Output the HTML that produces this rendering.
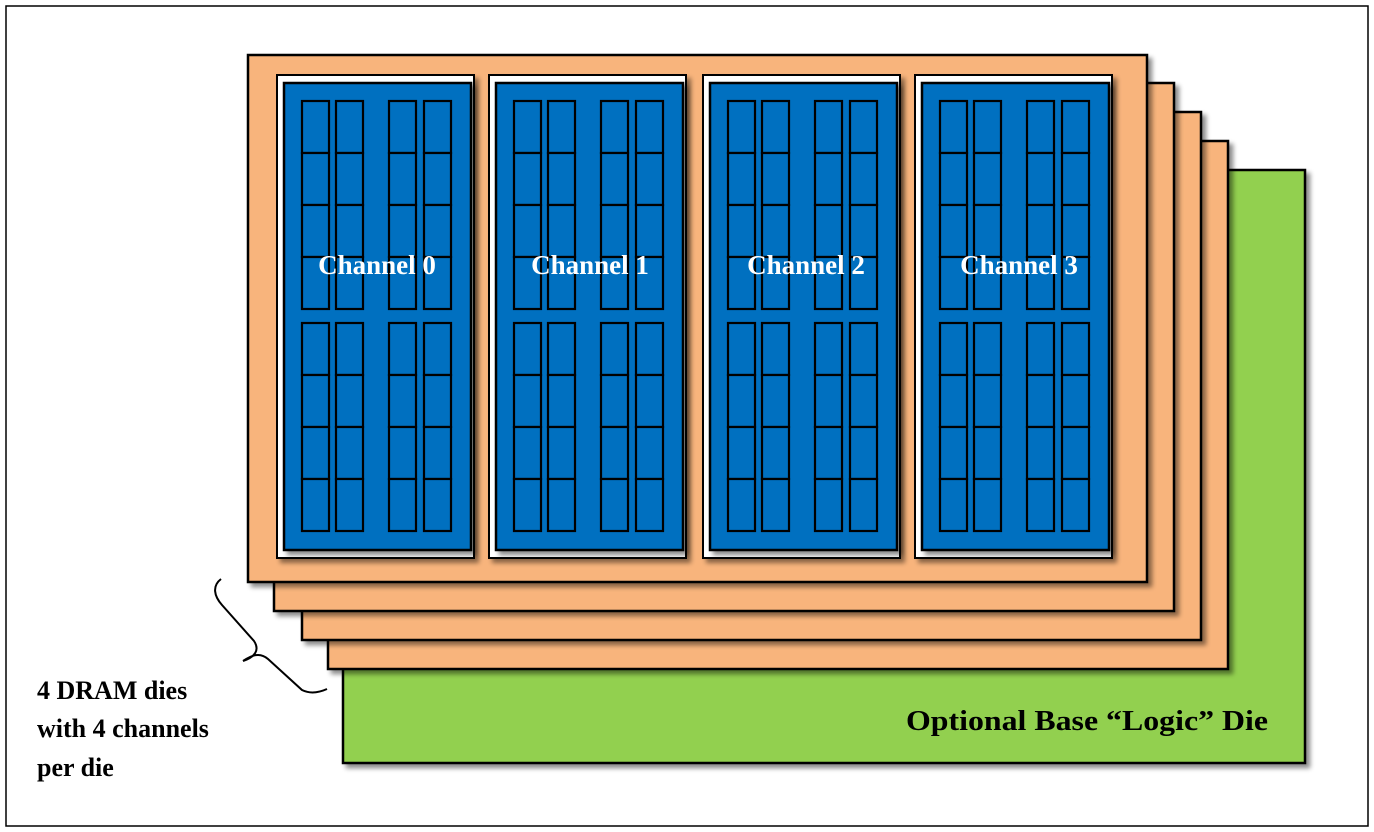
<!DOCTYPE html>
<html><head><meta charset="utf-8"><style>
html,body{margin:0;padding:0;background:#fff;}
svg{display:block;}
</style></head><body>
<svg width="1374" height="832" viewBox="0 0 1374 832" xmlns="http://www.w3.org/2000/svg">
<defs>
<filter id="sh" x="-5%" y="-5%" width="115%" height="115%">
<feDropShadow dx="4" dy="4" stdDeviation="2.5" flood-color="#000" flood-opacity="0.45"/>
</filter>
<g id="col">
<rect x="0" y="101" width="27" height="52"/><rect x="0" y="153" width="27" height="52"/><rect x="0" y="205" width="27" height="52"/><rect x="0" y="257" width="27" height="52"/>
<rect x="0" y="323" width="27" height="52"/><rect x="0" y="375" width="27" height="52"/><rect x="0" y="427" width="27" height="52"/><rect x="0" y="479" width="27" height="52"/>
</g>
<g id="ch">
<rect x="0" y="75" width="197" height="483" fill="#fff" stroke="#000" stroke-width="2" filter="url(#sh)"/>
<rect x="7" y="83" width="187" height="467" fill="#0070c0" stroke="#000" stroke-width="2.5" filter="url(#sh)"/>
<g fill="#0070c0" stroke="#000" stroke-width="2.2">
<use href="#col" x="25"/><use href="#col" x="59"/><use href="#col" x="112"/><use href="#col" x="147"/>
</g>
</g>
</defs>
<rect x="6" y="6" width="1362" height="820" fill="#fff" stroke="#000" stroke-width="1.5"/>
<rect x="343" y="170" width="962" height="593" fill="#92d050" stroke="#000" stroke-width="2.5" filter="url(#sh)"/>
<rect x="328" y="141" width="900" height="528" fill="#f8b47c" stroke="#000" stroke-width="2.5" filter="url(#sh)"/>
<rect x="302" y="112" width="899" height="528" fill="#f8b47c" stroke="#000" stroke-width="2.5" filter="url(#sh)"/>
<rect x="274" y="83" width="900" height="528" fill="#f8b47c" stroke="#000" stroke-width="2.5" filter="url(#sh)"/>
<rect x="248" y="55" width="899" height="527" fill="#f8b47c" stroke="#000" stroke-width="2.5" filter="url(#sh)"/>
<use href="#ch" x="277"/><use href="#ch" x="489"/><use href="#ch" x="703"/><use href="#ch" x="915"/>
<g font-family="Liberation Serif, serif" font-weight="bold" font-size="27" fill="#fff" text-anchor="middle">
<text x="377" y="274">Channel 0</text>
<text x="590" y="274">Channel 1</text>
<text x="806" y="274">Channel 2</text>
<text x="1019" y="274">Channel 3</text>
</g>
<path d="M221,579 C212,586 214,596 222,605 L254,641 C260,650 255,657 243,661 M243,661 C252,655 260,652 268,659 L302,690 C310,694 318,693 327,689" fill="none" stroke="#000" stroke-width="2"/>
<g font-family="Liberation Serif, serif" font-weight="bold" font-size="26" fill="#000">
<text x="37" y="699">4 DRAM dies</text>
<text x="37" y="737">with 4 channels</text>
<text x="37" y="776">per die</text>
<text x="906" y="730" font-size="28" textLength="362" lengthAdjust="spacingAndGlyphs">Optional Base “Logic” Die</text>
</g>
</svg>
</body></html>
